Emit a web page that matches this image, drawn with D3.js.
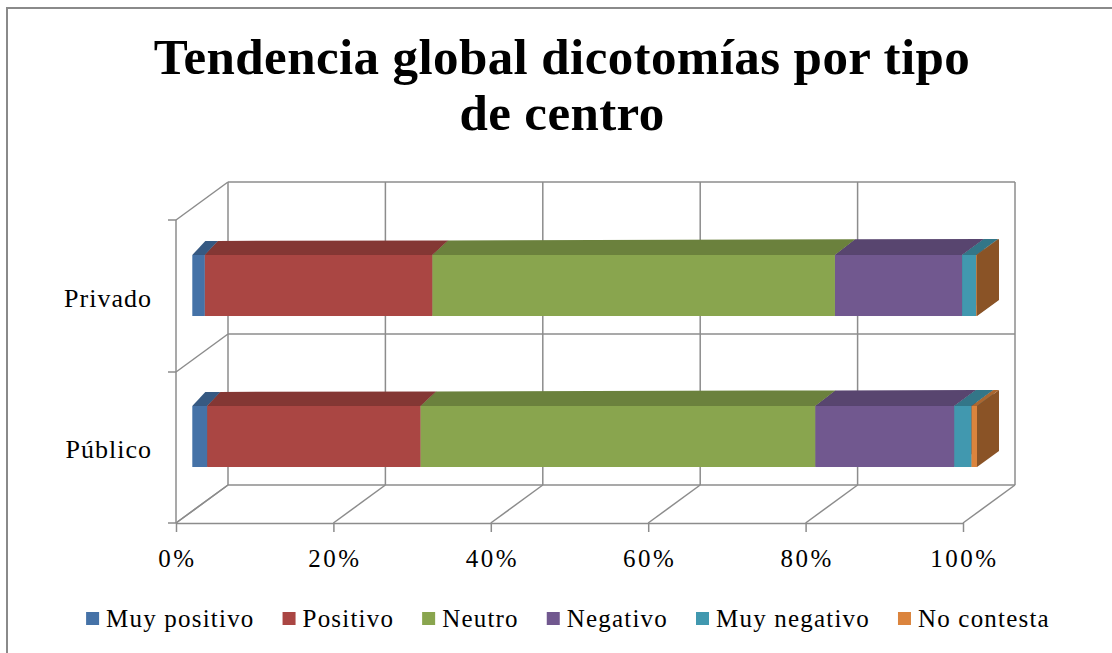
<!DOCTYPE html>
<html>
<head>
<meta charset="utf-8">
<script src="https://cdn.jsdelivr.net/npm/d3@7"></script>
<style>
  body { margin: 0; background: #fff; }
  text { font-family: "Liberation Serif", serif; fill: #000; }
</style>
</head>
<body>
<script>
// data (percent of each centre type)
const categories = ["Privado", "Público"];
const series = ["Muy positivo", "Positivo", "Neutro", "Negativo", "Muy negativo", "No contesta"];
const colors = ["#4572A7", "#AA4643", "#89A54E", "#71588F", "#4198AF", "#DB843D"];
const privado = [1.6, 29.0, 51.3, 16.2, 1.8, 0.1];
const publico = [1.9, 27.2, 50.3, 17.7, 2.2, 0.7];
const ticks = [0, 0.2, 0.4, 0.6, 0.8, 1];

const W = 1112, H = 653;

const svg = d3.select("body").append("svg")
    .attr("width", W)
    .attr("height", H);

// chart frame
svg.append("path")
    .attr("d", "M7,660V8H1112")
    .attr("fill", "none")
    .attr("stroke", "#8a8a8a")
    .attr("stroke-width", 2);

// title
const title = svg.append("text")
    .attr("text-anchor", "middle")
    .style("font-weight", "bold")
    .style("font-size", "51px")
    .style("letter-spacing", "0.4px");
title.append("tspan").attr("x", 562).attr("y", 74).text("Tendencia global dicotomías por tipo");
title.append("tspan").attr("x", 562).attr("y", 130).text("de centro");

// 3d walls
const depth = {dx: 52, dy: -38};
const xFront = d3.scaleLinear().domain([0, 1]).range([176, 963]);
const floorY = 523;
const wallTop = 182;
const wallRows = [wallTop, 334, floorY + depth.dy];
const grid = svg.append("g")
    .attr("fill", "none")
    .attr("stroke", "#8c8c8c")
    .attr("stroke-width", 1.5);

// back wall verticals
grid.selectAll(".v").data(ticks).enter().append("line")
    .attr("x1", d => xFront(d) + depth.dx).attr("x2", d => xFront(d) + depth.dx)
    .attr("y1", wallTop).attr("y2", floorY + depth.dy);
// back wall horizontals
grid.selectAll(".h").data(wallRows).enter().append("line")
    .attr("x1", xFront(0) + depth.dx).attr("x2", xFront(1) + depth.dx)
    .attr("y1", d => d).attr("y2", d => d);
// floor diagonals
grid.selectAll(".f").data(ticks).enter().append("line")
    .attr("x1", d => xFront(d)).attr("y1", floorY)
    .attr("x2", d => xFront(d) + depth.dx).attr("y2", floorY + depth.dy);
// side wall diagonals
grid.selectAll(".s").data(wallRows).enter().append("line")
    .attr("x1", xFront(0)).attr("y1", d => d - depth.dy)
    .attr("x2", xFront(0) + depth.dx).attr("y2", d => d);
// side wall vertical
grid.append("line")
    .attr("x1", xFront(0)).attr("x2", xFront(0))
    .attr("y1", wallTop - depth.dy).attr("y2", floorY);
// side wall ticks
grid.selectAll(".t").data(wallRows).enter().append("line")
    .attr("x1", xFront(0) - 8).attr("x2", xFront(0))
    .attr("y1", d => d - depth.dy).attr("y2", d => d - depth.dy);

// front axis
const axis = svg.append("g")
    .attr("transform", `translate(0,${floorY})`)
    .call(d3.axisBottom(xFront).tickValues(ticks).tickFormat(d3.format(".0%"))
      .tickSize(9).tickSizeOuter(0).tickPadding(17));
axis.attr("font-family", null).attr("font-size", null);
axis.select(".domain").attr("stroke", "#8c8c8c").attr("stroke-width", 1.5);
axis.selectAll(".tick line").attr("stroke", "#8c8c8c").attr("stroke-width", 1.5);
axis.selectAll(".tick text")
    .style("font-family", "'Liberation Serif', serif")
    .style("font-size", "25px")
    .style("letter-spacing", "2.5px")
    .attr("dx", 1)
    .attr("fill", "#000");

// bars
const table = categories.map((c, i) => {
  const row = {cat: c};
  const vals = i === 0 ? privado : publico;
  series.forEach((s, j) => row[s] = vals[j] / 100);
  return row;
});
const stack = d3.stack().keys(series)(table);

const xBar = d3.scaleLinear().domain([0, 1]).range([192.3, 977]);
const y = d3.scaleBand().domain(categories).range([210, 512]).paddingInner(0.596).paddingOuter(0.298);
// bar depth grows a little to the right (perspective)
const bdx = x => 13 + 9 * (x - 192) / 785;
const bdy = x => -14 - 2 * (x - 192) / 785;

const color = d3.scaleOrdinal().domain(series).range(colors);

const bars = svg.append("g");
categories.forEach((c, ci) => {
  const g = bars.append("g");
  const y0 = y(c), y1 = y(c) + y.bandwidth();
  stack.forEach(layer => {
    const d = layer[ci];
    const x0 = xBar(d[0]), x1 = xBar(d[1]);
    const col = d3.color(color(layer.key));
    // side
    g.append("path")
      .attr("d", `M${x1},${y0}L${x1 + bdx(x1)},${y0 + bdy(x1)}L${x1 + bdx(x1)},${y1 + bdy(x1)}L${x1},${y1}Z`)
      .attr("fill", col.darker(1.3));
    // top
    g.append("path")
      .attr("d", `M${x0},${y0}L${x1},${y0}L${x1 + bdx(x1)},${y0 + bdy(x1)}L${x0 + bdx(x0)},${y0 + bdy(x0)}Z`)
      .attr("fill", col.darker(0.7));
    // front
    g.append("rect")
      .attr("x", x0).attr("y", y0)
      .attr("width", x1 - x0).attr("height", y1 - y0)
      .attr("fill", col);
  });
});

// category labels
svg.append("g").selectAll("text").data(categories).enter().append("text")
    .attr("x", 152)
    .attr("y", d => y(d) + y.bandwidth() / 2 + 21.5)
    .attr("text-anchor", "end")
    .style("font-size", "26px")
    .style("letter-spacing", "1px")
    .text(d => d);

// legend
const legend = svg.append("g");
const items = legend.selectAll("g").data(series).enter().append("g");
items.append("rect")
    .attr("width", 13).attr("height", 13)
    .attr("y", 612)
    .attr("fill", d => color(d));
items.append("text")
    .attr("y", 627)
    .style("font-size", "25px")
    .style("letter-spacing", "1.2px")
    .text(d => d);
let lx = 0;
const widths = [];
items.each(function() {
  const w = d3.select(this).select("text").node().getComputedTextLength();
  widths.push(w);
});
const gap = 28, sw = 20;
const total = d3.sum(widths) + widths.length * sw + (widths.length - 1) * gap;
lx = 568 - total / 2;
items.each(function(d, i) {
  d3.select(this).select("rect").attr("x", lx);
  d3.select(this).select("text").attr("x", lx + sw);
  lx += sw + widths[i] + gap;
});
</script>
</body>
</html>
